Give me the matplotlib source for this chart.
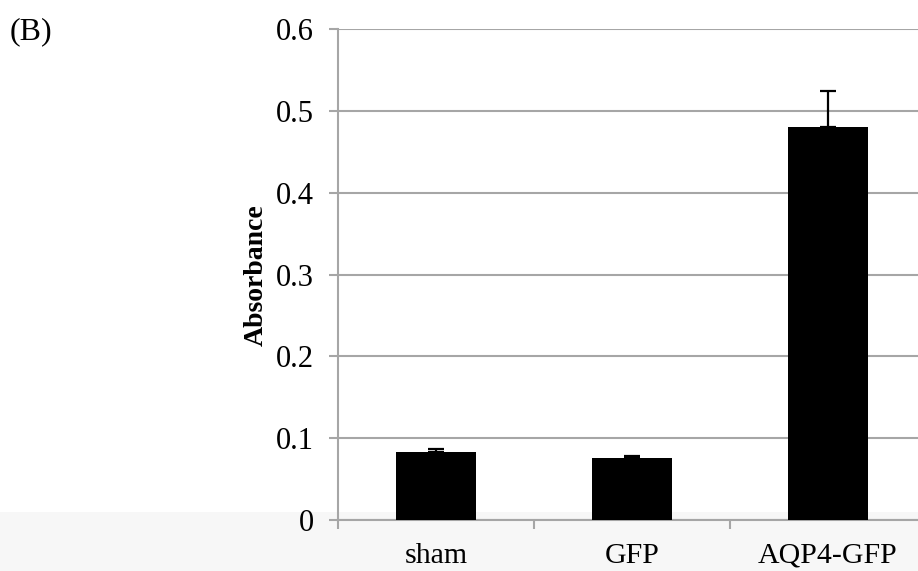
import matplotlib
matplotlib.use("Agg")
import matplotlib.pyplot as plt
from matplotlib.patches import Rectangle
import numpy as np

# data
groups = ["sham", "GFP", "AQP4-GFP"]
absorbance = [0.083, 0.076, 0.480]
err_upper = [0.004, 0.002, 0.044]
yticks = [0, 0.1, 0.2, 0.3, 0.4, 0.5, 0.6]
ytick_labels = ["0", "0.1", "0.2", "0.3", "0.4", "0.5", "0.6"]

plt.rcParams["font.family"] = ["Liberation Serif", "DejaVu Serif"]
grid_col = "#a6a6a6"

fig = plt.figure(figsize=(9.18, 5.71), dpi=100)
# light grey strip at the bottom of the screenshot
fig.patches.append(Rectangle((0, 0), 1, 59 / 571, transform=fig.transFigure,
                             facecolor="#f7f7f7", edgecolor="none", zorder=-10))

ax = fig.add_axes([338 / 918, 51 / 571, 588 / 918, 490.7 / 571])
ax.set_facecolor("none")
ax.set_zorder(2)

x = np.arange(len(groups))
ax.bar(x, absorbance, width=0.41, color="black", zorder=3)
ax.errorbar(x, absorbance, yerr=[[0] * len(groups), err_upper], fmt="none",
            ecolor="black", elinewidth=1.6, capsize=6, capthick=1.6, zorder=4)

ax.set_xlim(-0.5, 2.5)
ax.set_ylim(0, 0.6)
ax.set_yticks(yticks)
ax.set_yticklabels(ytick_labels)
ax.yaxis.grid(True, color=grid_col, linewidth=1.5, zorder=1)
ax.set_axisbelow(True)

ax.set_xticks(x)
ax.set_xticklabels(groups)
ax.set_xticks([-0.5, 0.5, 1.5], minor=True)
ax.tick_params(axis="x", which="major", length=0, pad=16.5, labelsize=21.5)
ax.tick_params(axis="x", which="minor", length=6.5, width=1.5, color=grid_col)
ax.tick_params(axis="y", length=6.5, width=1.5, color=grid_col, pad=11, labelsize=22)

for side in ["top", "right"]:
    ax.spines[side].set_visible(False)
for side in ["left", "bottom"]:
    ax.spines[side].set_color(grid_col)
    ax.spines[side].set_linewidth(1.5)

ax.set_ylabel("Absorbance", fontsize=20, fontweight="bold", labelpad=5)
fig.text(10 / 918, 1 - 39 / 571, "(B)", fontsize=23, va="baseline", ha="left")

fig.savefig("out.png", dpi=100)
